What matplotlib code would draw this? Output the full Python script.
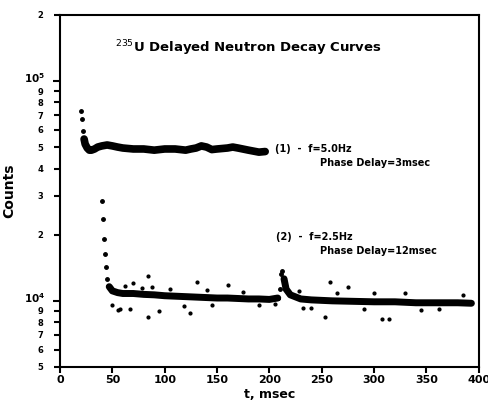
import matplotlib
matplotlib.use("Agg")
import matplotlib.pyplot as plt
from matplotlib.ticker import FixedLocator, FixedFormatter
from matplotlib.transforms import ScaledTranslation

# ---- data ----
t1 = [20, 21, 22, 23, 24, 26, 28, 30, 33, 36, 40, 45, 50, 55, 60, 70, 80, 90,
      100, 110, 120, 125, 130, 135, 140, 145, 150, 160, 165, 170, 180, 190, 196]
c1 = [73000, 67000, 59300, 54500, 51700, 49600, 48500, 48500, 49100, 50100,
      50700, 51200, 50700, 50100, 49600, 49100, 49100, 48500, 49100, 49100,
      48500, 49100, 49600, 50700, 50100, 48800, 49100, 49600, 50100, 49600,
      48500, 47500, 47800]

t2 = [40, 41, 42, 43, 44, 45, 47, 50, 55, 60, 70, 80, 90, 100, 110, 120, 130,
      140, 150, 160, 170, 180, 190, 200, 208, 210, 211, 212, 214, 216, 220, 230,
      240, 250, 260, 280, 300, 320, 340, 360, 380, 393]
c2 = [28500, 23600, 19150, 16400, 14300, 12600, 11600, 11100, 10900, 10800,
      10800, 10700, 10650, 10550, 10500, 10450, 10400, 10350, 10300, 10300,
      10250, 10200, 10200, 10150, 10300, 11300, 13300, 13700, 12600, 11300,
      10650, 10200, 10100, 10050, 10000, 9950, 9900, 9900, 9800, 9800, 9800, 9750]

t2_out = [55, 57, 67, 84, 84, 124, 131, 253, 258, 308, 314, 70, 95, 160, 275,
          345, 62, 78, 105, 118, 145, 175, 190, 205, 228, 240, 265, 290, 330,
          362, 385, 50, 88, 140, 232, 300]
c2_out = [9050, 9200, 9200, 8460, 13000, 8760, 12200, 8460, 12200, 8290, 8290,
          12000, 9000, 11800, 11600, 9100, 11700, 11500, 11300, 9500, 9600,
          11000, 9600, 9700, 11100, 9300, 10900, 9200, 10800, 9200, 10600,
          9600, 11600, 11200, 9300, 10800]

x_ticks = [0, 50, 100, 150, 200, 250, 300, 350, 400]
y_major = [1e4, 1e5]
y_major_labels = ["$\\mathbf{10^4}$", "$\\mathbf{10^5}$"]
y_minor = [5e3, 6e3, 7e3, 8e3, 9e3, 2e4, 3e4, 4e4, 5e4, 6e4, 7e4, 8e4, 9e4, 2e5]
y_minor_labels = ["5", "6", "7", "8", "9", "2", "3", "4", "5", "6", "7", "8", "9", "2"]

title = "$^{235}$U Delayed Neutron Decay Curves"
note1a = "(1)  -  f=5.0Hz"
note1b = "Phase Delay=3msec"
note2a = "(2)  -  f=2.5Hz"
note2b = "Phase Delay=12msec"

# ---- figure ----
fig = plt.figure(figsize=(4.88, 4.04), dpi=100)
ax = fig.add_axes([0.123, 0.0916, 0.858, 0.8714])
ax.set_yscale("log")
ax.set_xlim(0, 400)
ax.set_ylim(5e3, 2e5)

# curve 1: dotted steep start then thick band
ax.plot(t1[:5], c1[:5], "o", color="black", ms=2.5)
ax.plot(t1[3:], c1[3:], "-", color="black", lw=5.5, solid_capstyle="round")

# curve 2: dotted steep start, ragged band, small secondary peak
ax.plot(t2[:8], c2[:8], "o", color="black", ms=2.5)
ax.plot(t2[6:25], c2[6:25], "-", color="black", lw=5, solid_capstyle="round")
ax.plot(t2[24:30], c2[24:30], "o", color="black", ms=2.5)
ax.plot(t2[28:], c2[28:], "-", color="black", lw=5, solid_capstyle="round")
ax.plot(t2_out, c2_out, "o", color="black", ms=2)

for s in ax.spines.values():
    s.set_linewidth(1.5)

ax.set_xticks(x_ticks)
ax.set_xticklabels([str(v) for v in x_ticks], fontsize=8, fontweight="bold")
ax.tick_params(axis="x", direction="out", length=4, width=1.5, pad=2)

ax.yaxis.set_major_locator(FixedLocator(y_major))
ax.yaxis.set_major_formatter(FixedFormatter(y_major_labels))
ax.yaxis.set_minor_locator(FixedLocator(y_minor))
ax.yaxis.set_minor_formatter(FixedFormatter(y_minor_labels))
ax.tick_params(axis="y", which="major", direction="out", length=5, width=1.5,
               labelsize=7.5, pad=6)
ax.tick_params(axis="y", which="minor", direction="out", length=4, width=1.5,
               labelsize=6, pad=8)
for lab in ax.get_yticklabels(minor=True):
    lab.set_fontweight("bold")
shift = ScaledTranslation(0, 3 / 72, fig.dpi_scale_trans)
for lab in ax.get_yticklabels():
    lab.set_transform(lab.get_transform() + shift)

ax.set_xlabel("t, msec", fontsize=9, fontweight="bold", labelpad=2)
ax.set_ylabel("Counts", fontsize=10, fontweight="bold")
ax.yaxis.set_label_coords(-0.105, 0.5)

ax.text(0.45, 0.905, title, transform=ax.transAxes, ha="center", va="center",
        fontsize=9.5, fontweight="bold")
ax.text(0.514, 0.62, note1a, transform=ax.transAxes, ha="left", va="center",
        fontsize=7, fontweight="bold")
ax.text(0.62, 0.58, note1b, transform=ax.transAxes, ha="left", va="center",
        fontsize=7, fontweight="bold")
ax.text(0.516, 0.37, note2a, transform=ax.transAxes, ha="left", va="center",
        fontsize=7, fontweight="bold")
ax.text(0.62, 0.33, note2b, transform=ax.transAxes, ha="left", va="center",
        fontsize=7, fontweight="bold")

fig.savefig("out.png", dpi=100)
